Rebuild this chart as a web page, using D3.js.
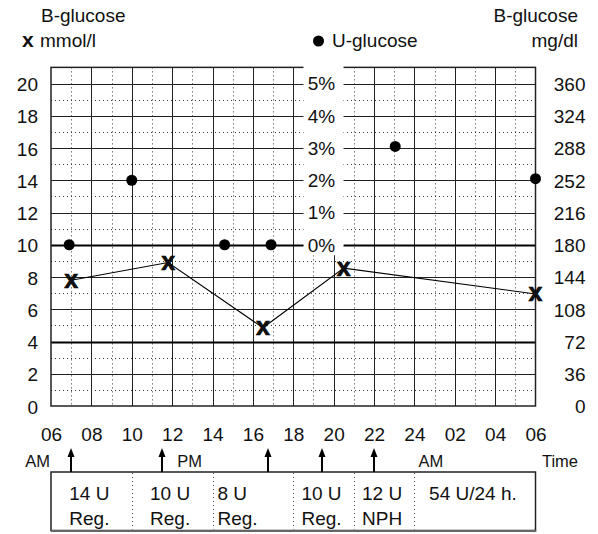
<!DOCTYPE html>
<html>
<head>
<meta charset="utf-8">
<script src="https://cdn.jsdelivr.net/npm/d3@7"></script>
<style>
  html, body { margin: 0; padding: 0; background: #fff; }
  svg { display: block; }
  text { font-family: "Liberation Sans", Arial, sans-serif; fill: #111; }
</style>
</head>
<body>
<svg id="chart" width="598" height="534"></svg>
<script>
// ---------- DATA ----------
const hourTickValues = [6, 8, 10, 12, 14, 16, 18, 20, 22, 24, 26, 28, 30];
const hourTickLabels = ["06", "08", "10", "12", "14", "16", "18", "20", "22", "24", "02", "04", "06"];
const mmolTicks = [0, 2, 4, 6, 8, 10, 12, 14, 16, 18, 20];
const mgdlLabels = ["0", "36", "72", "108", "144", "180", "216", "252", "288", "324", "360"];
const pctTicks = [0, 1, 2, 3, 4, 5];
const pctLabels = ["0%", "1%", "2%", "3%", "4%", "5%"];

// Blood glucose (mmol/l), marked with x
const bgTimes = [7, 11.8, 16.5, 20.5, 30];
const bgValues = [7.8, 8.9, 4.85, 8.55, 6.95];

// Urine glucose (%), marked with dots
const ugTimes = [6.9, 10, 14.6, 16.9, 23.05, 30];
const ugValues = [0, 2, 0, 0, 3.05, 2.05];

// Insulin injections
const injectionTimes = [7, 11.5, 16.75, 19.4, 22];
const cellBounds = [6, 10, 14, 18, 21, 24, 30];
const doseLabels = ["14 U", "10 U", "8 U", "10 U", "12 U", "54 U/24 h."];
const insulinTypes = ["Reg.", "Reg.", "Reg.", "Reg.", "NPH", ""];

const periodLabels = ["AM", "PM", "AM"];
const periodTimes = [6, 12, 24];

// ---------- LAYOUT ----------
const svg = d3.select("#chart");
const FS = 19;
const x = d3.scaleLinear().domain([6, 30]).range([51, 535.5]);
const y = d3.scaleLinear().domain([0, 20]).range([406, 83.5]);
const yPct = d3.scaleLinear().domain([0, 5]).range([y(10), y(20)]);
const yTop = y(21);
const x0 = x(6), x1 = x(30), yB = y(0);

const grid = svg.append("g");

// dotted grid (odd values)
const oddHours = d3.range(7, 30, 2);
const oddMmol = d3.range(1, 20, 2);
grid.selectAll("line.vdot").data(oddHours).join("line")
  .attr("x1", d => Math.round(x(d)) + 0.5).attr("x2", d => Math.round(x(d)) + 0.5)
  .attr("y1", yTop).attr("y2", yB)
  .attr("stroke", "#333").attr("stroke-width", 1).attr("stroke-dasharray", "1,3");
grid.selectAll("line.hdot").data(oddMmol).join("line")
  .attr("x1", x0).attr("x2", x1)
  .attr("y1", d => Math.round(y(d)) + 0.5).attr("y2", d => Math.round(y(d)) + 0.5)
  .attr("stroke", "#333").attr("stroke-width", 1).attr("stroke-dasharray", "1,3");

// solid grid (even values)
const evenHours = d3.range(8, 30, 2);
const evenMmol = d3.range(2, 21, 2);
grid.selectAll("line.vsol").data(evenHours).join("line")
  .attr("x1", d => Math.round(x(d)) + 0.5).attr("x2", d => Math.round(x(d)) + 0.5)
  .attr("y1", yTop).attr("y2", yB)
  .attr("stroke", "#222").attr("stroke-width", 1);
grid.selectAll("line.hsol").data(evenMmol).join("line")
  .attr("x1", x0).attr("x2", x1)
  .attr("y1", d => Math.round(y(d)) + 0.5).attr("y2", d => Math.round(y(d)) + 0.5)
  .attr("stroke", d => (d === 10 || d === 4) ? "#000" : "#222")
  .attr("stroke-width", d => (d === 10 || d === 4) ? 2 : 1);

// border
grid.append("rect")
  .attr("x", x0).attr("y", yTop).attr("width", x1 - x0).attr("height", yB - yTop)
  .attr("fill", "none").attr("stroke", "#222").attr("stroke-width", 1.5);

// white column behind % labels
const pcx = x(19.5);
grid.append("rect")
  .attr("x", pcx - 20).attr("y", yTop - 2).attr("width", 40).attr("height", y(9.35) - yTop + 2)
  .attr("fill", "#fff");

// % labels
svg.append("g").selectAll("text").data(pctTicks).join("text")
  .attr("x", pcx - 2).attr("y", d => yPct(d)).attr("dy", "0.36em")
  .attr("text-anchor", "middle").attr("font-size", FS)
  .text((d, i) => pctLabels[i]);

// left axis
const leftAxis = svg.append("g").attr("transform", `translate(${x0},0)`)
  .call(d3.axisLeft(y).tickValues(mmolTicks).tickSize(0).tickPadding(13));
leftAxis.select(".domain").remove();
leftAxis.selectAll("text").attr("font-size", FS).attr("font-family", null).attr("dy", "0.38em").style("fill", "#111");

// right axis
const rightAxis = svg.append("g").attr("transform", `translate(${x1},0)`)
  .call(d3.axisRight(y).tickValues(mmolTicks).tickSize(0).tickPadding(50)
    .tickFormat((d, i) => mgdlLabels[i]));
rightAxis.select(".domain").remove();
rightAxis.selectAll("text").attr("font-size", FS).attr("font-family", null)
  .attr("text-anchor", "end").attr("dy", "0.36em").style("fill", "#111");

// bottom axis
const bottomAxis = svg.append("g").attr("transform", `translate(0,${yB})`)
  .call(d3.axisBottom(x).tickValues(hourTickValues).tickSize(0).tickPadding(22)
    .tickFormat((d, i) => hourTickLabels[i]));
bottomAxis.select(".domain").remove();
bottomAxis.selectAll("text").attr("font-size", FS).attr("font-family", null).style("fill", "#111");

// AM / PM / Time
svg.append("text").attr("x", x(periodTimes[0]) - 1).attr("y", 467).attr("text-anchor", "end")
  .attr("font-size", 16.5).text(periodLabels[0]);
svg.append("text").attr("x", x(periodTimes[1]) + 5).attr("y", 467).attr("font-size", 16.5).text(periodLabels[1]);
svg.append("text").attr("x", x(periodTimes[2]) + 4).attr("y", 467).attr("font-size", 16.5).text(periodLabels[2]);
svg.append("text").attr("x", 578).attr("y", 467).attr("text-anchor", "end").attr("font-size", 16.5).text("Time");

// Headers
svg.append("text").attr("x", 41).attr("y", 22).attr("font-size", FS).text("B-glucose");
svg.append("text").attr("x", 22).attr("y", 47).attr("font-size", 21).attr("font-weight", "bold").text("x");
svg.append("text").attr("x", 40).attr("y", 47).attr("font-size", FS).text("mmol/l");
svg.append("text").attr("x", 578).attr("y", 22).attr("text-anchor", "end").attr("font-size", FS).text("B-glucose");
svg.append("text").attr("x", 578).attr("y", 47).attr("text-anchor", "end").attr("font-size", FS).text("mg/dl");
svg.append("circle").attr("cx", 318.5).attr("cy", 41).attr("r", 5.5).attr("fill", "#000");
svg.append("text").attr("x", 332).attr("y", 47).attr("font-size", FS).text("U-glucose");

// BG line
const bgData = bgTimes.map((t, i) => [t, bgValues[i]]);
svg.append("path").datum(bgData)
  .attr("d", d3.line().x(d => x(d[0])).y(d => y(d[1])))
  .attr("fill", "none").attr("stroke", "#000").attr("stroke-width", 1.1);

// UG dots
const ugData = ugTimes.map((t, i) => [t, ugValues[i]]);
svg.append("g").selectAll("circle").data(ugData).join("circle")
  .attr("cx", d => x(d[0])).attr("cy", d => yPct(d[1])).attr("r", 5.5).attr("fill", "#000");

// BG crosses
svg.append("g").selectAll("text").data(bgData).join("text")
  .attr("x", d => x(d[0])).attr("y", d => y(d[1])).attr("dy", "0.3em")
  .attr("text-anchor", "middle").attr("font-size", 25).attr("font-weight", "bold")
  .attr("stroke", "#000").attr("stroke-width", 0.6)
  .text("x");

// Insulin box
const boxTop = 472, boxBot = 530.5;
const box = svg.append("g");
box.append("rect").attr("x", x0).attr("y", boxTop).attr("width", x1 - x0).attr("height", boxBot - boxTop)
  .attr("fill", "#fff").attr("stroke", "#222").attr("stroke-width", 1.5);
box.append("line").attr("x1", x0).attr("x2", x1 + 0.75).attr("y1", boxBot + 0.5).attr("y2", boxBot + 0.5)
  .attr("stroke", "#666").attr("stroke-width", 2);
box.selectAll("line.sep").data(cellBounds.slice(1, -1)).join("line")
  .attr("x1", d => Math.round(x(d)) + 0.5).attr("x2", d => Math.round(x(d)) + 0.5)
  .attr("y1", boxTop + 1).attr("y2", boxBot - 1)
  .attr("stroke", "#444").attr("stroke-dasharray", "1,3");

doseLabels.forEach((lab, i) => {
  const a = x(cellBounds[i]), b = x(cellBounds[i + 1]);
  const left = i === 2;
  const tx = left ? a + 5 : (a + b) / 2 - 2;
  const anchor = left ? "start" : "middle";
  box.append("text").attr("x", tx).attr("y", 500).attr("text-anchor", anchor).attr("font-size", FS).text(lab);
  if (insulinTypes[i]) {
    box.append("text").attr("x", tx).attr("y", 525).attr("text-anchor", anchor).attr("font-size", FS).text(insulinTypes[i]);
  }
});

// arrows
const arr = svg.append("g");
injectionTimes.forEach(t => {
  const ax = Math.round(x(t));
  arr.append("line").attr("x1", ax).attr("x2", ax).attr("y1", boxTop).attr("y2", 455)
    .attr("stroke", "#000").attr("stroke-width", 2);
  arr.append("path").attr("d", `M${ax},448 L${ax - 3.5},457 L${ax + 3.5},457 Z`).attr("fill", "#000");
});
</script>
</body>
</html>
